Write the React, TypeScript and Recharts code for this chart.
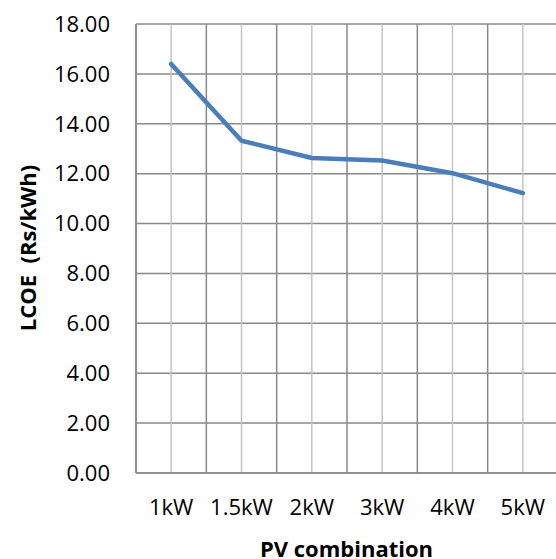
import { LineChart, Line, XAxis, YAxis, CartesianGrid } from 'recharts'

// PV sizes on the x axis
const categories = ['1kW', '1.5kW', '2kW', '3kW', '4kW', '5kW']
// levelised cost of energy, Rs/kWh
const lcoe = [16.4, 13.32, 12.63, 12.53, 12.02, 11.22]
const yTicks = [0, 2, 4, 6, 8, 10, 12, 14, 16, 18]
const yMin = 0
const yMax = 18

const data = categories.map((name, i) => ({ name, lcoe: lcoe[i] }))

const FONT = "'Open Sans', 'DejaVu Sans', sans-serif"
const DARK = '#898989'
const LIGHT = '#c4c4c4'

const twoDecimals = (v: number) => v.toFixed(2)

// darker lines on the band edges: one band per category across the plot box
const bandEdges = ({ offset }: any) => {
  const n = categories.length
  const edges: number[] = []
  for (let i = 0; i <= n; i++) edges.push(offset.left + (offset.width * i) / n)
  return edges
}

// one horizontal line per y tick across the plot box
const rowLines = ({ offset }: any) =>
  yTicks.map((v) => offset.top + offset.height * (1 - (v - yMin) / (yMax - yMin)))

const tickStyle = { fontSize: 22, fill: '#000', fontFamily: FONT }
const axisStyle = { stroke: DARK, strokeWidth: 1.5 }

const titleStyle: React.CSSProperties = {
  position: 'absolute',
  fontFamily: FONT,
  fontWeight: 700,
  fontSize: 22,
  lineHeight: 1,
  color: '#000',
  whiteSpace: 'pre',
}

export default function App() {
  return (
    <div style={{ position: 'absolute', left: 0, top: 0, width: 556, height: 559, overflow: 'hidden', background: '#fff' }}>
      <LineChart width={570} height={559} data={data} margin={{ top: 24, right: 12, bottom: 0, left: 0 }}>
        <CartesianGrid vertical={false} horizontalCoordinatesGenerator={rowLines} stroke={DARK} strokeWidth={1.5} />
        <CartesianGrid horizontal={false} stroke={LIGHT} strokeWidth={1.5} />
        <CartesianGrid horizontal={false} verticalCoordinatesGenerator={bandEdges} stroke={DARK} strokeWidth={1.5} />
        <XAxis
          dataKey="name"
          scale="band"
          height={86}
          tickLine={false}
          tickSize={0}
          tickMargin={26}
          axisLine={axisStyle}
          tick={tickStyle}
          interval={0}
        />
        <YAxis
          width={136}
          domain={[yMin, yMax]}
          ticks={yTicks}
          interval={0}
          tickFormatter={twoDecimals}
          tickLine={false}
          tickSize={0}
          tickMargin={26}
          axisLine={axisStyle}
          tick={tickStyle}
        />
        <Line
          type="linear"
          dataKey="lcoe"
          stroke="#4a7ebb"
          strokeWidth={4.5}
          strokeLinecap="round"
          strokeLinejoin="round"
          dot={false}
          activeDot={false}
          isAnimationActive={false}
        />
      </LineChart>
      {/* axis titles */}
      <div style={{ ...titleStyle, left: 27, top: 247.5, transform: 'translate(-50%, -50%) rotate(-90deg)' }}>
        LCOE  (Rs/kWh)
      </div>
      <div style={{ ...titleStyle, left: 346.5, top: 548, transform: 'translate(-50%, -50%)' }}>
        PV combination
      </div>
    </div>
  )
}
